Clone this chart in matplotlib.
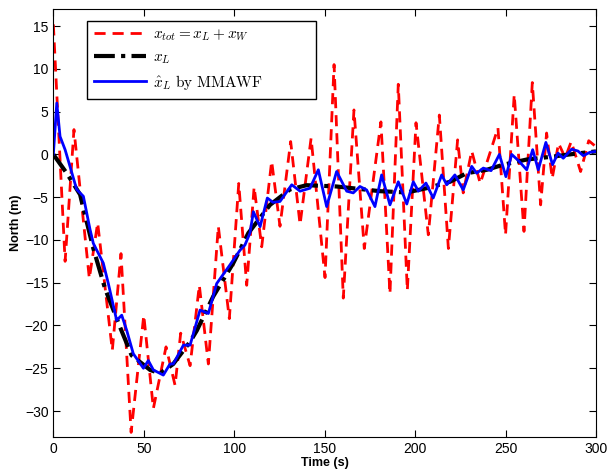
import matplotlib.pyplot as plt
import numpy as np

plt.rcParams['font.family'] = ['Liberation Sans', 'DejaVu Sans']
plt.rcParams['mathtext.fontset'] = 'cm'

# x_tot = x_L + x_W  (turning points)
t_tot = [0, 6.5, 11.4, 19.9, 24.5, 32.6, 37.4, 43, 50, 55.3, 62.3, 67.3, 70.4,
         75.6, 80.7, 85.7, 91.2, 97.3, 102.5, 106.9, 111, 115.2, 120.7, 125.3,
         131.2, 136.4, 142.5, 150.2, 155.2, 160.3, 166.2, 171.9, 181.1, 186.1,
         190.7, 195.7, 200.5, 207.3, 213.4, 218.4, 223.5, 226.6, 231.3, 236,
         245.8, 250, 254.8, 260.2, 264.8, 269.4, 272.7, 275.8, 279.3, 283,
         286.3, 291.5, 296, 300]
x_tot = [15.2, -12.5, 2.9, -14.5, -8.0, -22.9, -11.6, -32.5, -18.8, -29.7, -22.5,
         -27.0, -20.9, -24.7, -15.3, -24.5, -8.4, -19.2, -3.4, -15.3, -3.8, -10.8,
         -0.8, -8.4, 1.5, -8.2, 1.9, -14.4, 10.5, -16.8, 5.2, -11.0, 3.8, -16.3,
         8.2, -15.9, 3.7, -9.4, 4.6, -11.0, 1.7, -4.5, 0.4, -3.4, 3.1, -9.4, 7.0,
         -9.0, 8.4, -5.9, 2.5, -2.8, 1.3, -0.4, 1.5, -2.0, 1.6, 0.9]

# x_L (low-frequency motion)
t_L = [0, 7.4, 14.8, 16.6, 22.1, 28.6, 36.9, 43.3, 53.5, 59, 66.3, 75.6, 79.3,
       88.4, 99.5, 107.8, 119.8, 130.8, 140, 156.6, 180.6, 195.4, 206.4, 219.3,
       228.5, 239.6, 248.8, 261.7, 276.4, 289.3, 300]
x_L = [0, -2.2, -4.7, -6.3, -11.0, -15.7, -20.2, -23.5, -25.2, -25.6, -24.5,
       -21.9, -20.6, -16.6, -12.7, -9.2, -5.9, -4.1, -3.6, -3.75, -4.3, -4.45,
       -3.95, -3.2, -2.2, -1.8, -1.2, -0.6, -0.25, 0.1, 0.35]

# x_L estimate by MMAWF
t_est = [0, 1.9, 3.7, 6.5, 9.2, 12.9, 16.6, 20.3, 22.1, 27.6, 30.4, 35, 37.8,
         40.6, 44.2, 49.8, 52.5, 55.3, 60.8, 64.5, 66.3, 71.9, 75.6, 81.1, 85.7,
         90.3, 97.7, 103.2, 105.9, 108.7, 110.6, 114.3, 118.3, 121.4, 125.3,
         131.8, 136.4, 141.9, 146.5, 151.1, 156.6, 162.2, 165.8, 169.5, 173.2,
         177.8, 181.5, 186.1, 190.7, 195.4, 199, 201.8, 206, 210, 214.7, 217.5,
         222, 226.6, 231.3, 234, 237.7, 242, 246.6, 250.2, 253.4, 257.5, 261.7,
         265, 268.1, 272.3, 276, 279, 281.9, 286.5, 290, 293, 296.7, 300]
x_est = [0, 6.0, 2.1, 0.55, -1.4, -4.1, -4.9, -8.8, -10.4, -12.7, -15.1, -19.4,
         -18.8, -20.6, -23.3, -25.0, -24.1, -25.2, -25.8, -24.5, -24.5, -22.3,
         -22.3, -18.2, -18.6, -15.1, -12.9, -11.2, -10.6, -9.2, -6.7, -8.45,
         -5.1, -5.6, -5.5, -3.55, -4.3, -3.95, -1.8, -6.1, -2.0, -4.3, -4.5,
         -3.75, -4.15, -6.1, -2.4, -5.9, -3.2, -5.8, -3.2, -4.3, -3.35, -5.1,
         -2.4, -3.55, -2.4, -4.15, -1.4, -2.2, -1.6, -1.9, 0.0, -2.6, 0.0, -0.8,
         -1.8, 0.55, -1.8, 1.4, -1.2, 0.15, -0.45, 0.6, 0.4, -0.15, 0.25, 0.35]

fig = plt.figure(figsize=(6.16, 4.73), dpi=100)
ax = fig.add_axes([0.0866, 0.0768, 0.8809, 0.9042])

ax.plot(t_tot, x_tot, color='red', ls=(0, (4, 2.5)), lw=2,
        label=r'$x_{tot} = x_L + x_W$')
ax.plot(t_L, x_L, color='black', ls=(0, (5, 1.5, 1, 1.5)), lw=3,
        label=r'$x_L$')
ax.plot(t_est, x_est, color='#0000ff', lw=2,
        label=r'$\hat{x}_L\ \mathrm{by\ MMAWF}$')

ax.set_xlim(0, 300)
ax.set_ylim(-33, 17)
ax.set_xticks(np.arange(0, 301, 50))
ax.set_yticks(np.arange(-30, 16, 5))
ax.tick_params(direction='in', top=True, right=True, labelsize=10, length=5)
ax.set_xlabel('Time (s)', fontweight='bold', fontsize=9, labelpad=1)
ax.set_ylabel('North (m)', fontweight='bold', fontsize=9, labelpad=2)

# MATLAB-style legend box, wider than its text
leg = ax.legend(loc='upper left', bbox_to_anchor=(0.062, 0.0, 0.422, 0.972),
                mode='expand', fontsize=11, handlelength=3.4,
                handletextpad=0.5, fancybox=False, framealpha=1,
                edgecolor='black', borderpad=0.45, labelspacing=0.45,
                borderaxespad=0)
leg.get_frame().set_linewidth(1)

plt.savefig('out.png', dpi=100)
